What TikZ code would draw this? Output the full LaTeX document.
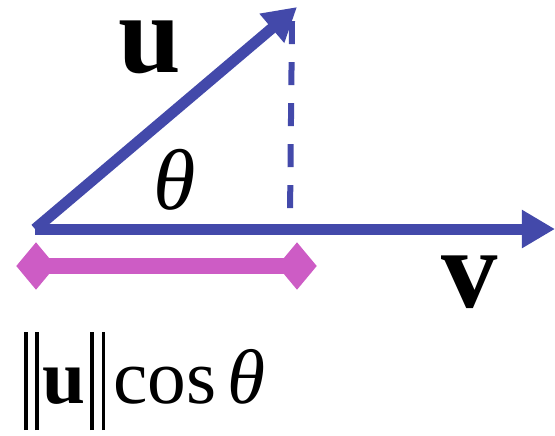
\documentclass[tikz,border=0pt]{standalone}
\usepackage{fontspec}
\setmainfont{Liberation Serif}
\usetikzlibrary{arrows.meta,shapes.geometric}
\definecolor{vecblue}{HTML}{4349AA}
\definecolor{projpink}{HTML}{CD5CC5}
\newcommand{\normbar}{\rule[-0.35em]{0.05em}{1.27em}\kern0.1em\rule[-0.35em]{0.05em}{1.27em}}
\begin{document}
\begin{tikzpicture}[
  x=0.01cm, y=-0.01cm,
  vec/.style={vecblue, line width=0.11cm, -{Triangle[length=0.33cm, width=0.36cm]}},
  dashline/.style={vecblue, line width=0.06cm, dash pattern=on 0.23cm off 0.18cm},
  endmark/.style={diamond, fill=projpink, inner sep=0pt, minimum width=0.40cm, minimum height=0.48cm},
  biglabel/.style={font=\fontsize{32}{36}\selectfont\bfseries},
  mathlabel/.style={font=\fontsize{24.5}{28}\selectfont}
]
\useasboundingbox (0,0) rectangle (555,435);

% vectors
\coordinate (origin) at (35,229);
\coordinate (utip) at (297,7);
\coordinate (vtip) at (555,229);
\draw[vec] (origin) -- (utip);
\draw[vec] (origin) -- (vtip);

% projection drop
\coordinate (droptop) at (292,21);
\coordinate (dropfoot) at (290,215);
\draw[dashline] (droptop) -- (dropfoot);

% projection length
\node[endmark] (projstart) at (36,266) {};
\node[endmark] (projend) at (297,266) {};
\draw[projpink, line width=0.16cm] (projstart.center) -- (projend.center);

% labels
\node[biglabel] (ulabel) at (150,47) {u};
\node[biglabel] (vlabel) at (470,282) {v};
\node[mathlabel] (anglelabel) at (175,180) {\textit{θ}};
\node[font=\fontsize{22}{26}\selectfont, anchor=base west, inner sep=0pt] (projlabel) at (23,403)
  {\normbar\kern0.04em\textbf{u}\kern0.06em\normbar\kern0.1em cos\kern0.15em\textit{θ}};
\end{tikzpicture}
\end{document}
